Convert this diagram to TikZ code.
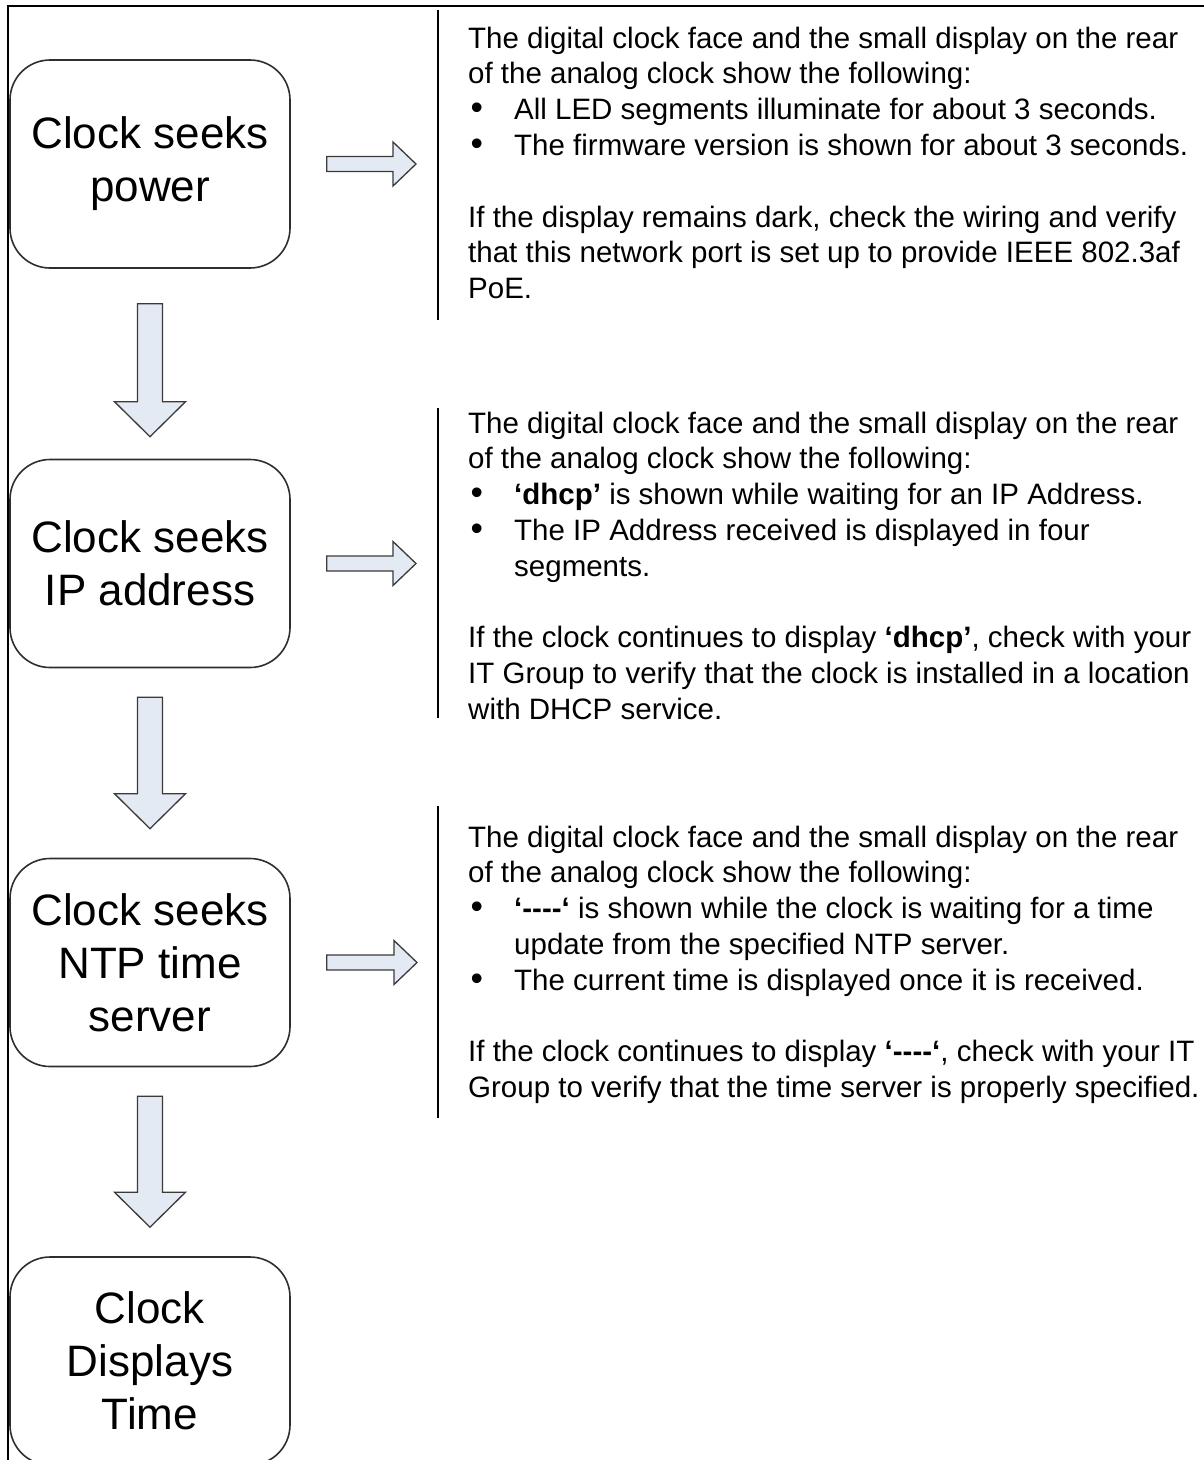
\documentclass[tikz,border=0pt]{standalone}
\usepackage{fontspec}
\setmainfont{Liberation Sans}
\usetikzlibrary{calc}
\definecolor{arrowfill}{HTML}{E4EAF4}
\definecolor{arrowline}{HTML}{3A3A3A}
\definecolor{boxline}{HTML}{2E2E2E}
\newcommand\bul{\makebox[46pt][l]{\hspace{2.5pt}\scalebox{1.2}{•}}}
\newcommand\ind{\hspace*{46pt}}
\newcommand\dashes{\mbox{-}\mbox{-}\mbox{-}\mbox{-}}
\newcommand\DownBlock[4]{%
  \draw[blockarrow] let \p1=($(#1.south)+(0,#3)$), \p2=($(#2.north)+(0,-#4)$) in
    (\x1-12.5pt,\y1) -- (\x1+12.5pt,\y1) -- (\x1+12.5pt,\y2+35pt) -- (\x1+35.5pt,\y2+35pt)
    -- (\x1,\y2) -- (\x1-35.5pt,\y2+35pt) -- (\x1-12.5pt,\y2+35pt) -- cycle;}
\newcommand\RightBlock[2]{%
  \draw[blockarrow] let \p1=($(#1.east)+(36,0)$), \p2=(#2) in
    (\x1,\y1+7.5pt) -- (\x2-23pt,\y1+7.5pt) -- (\x2-23pt,\y1+22pt) -- (\x2,\y1)
    -- (\x2-23pt,\y1-22pt) -- (\x2-23pt,\y1-7.5pt) -- (\x1,\y1-7.5pt) -- cycle;}
\begin{document}
\begin{tikzpicture}[x=1pt,y=-1pt,
  stepbox/.style={draw=boxline,line width=1.6pt,rounded corners=40pt,fill=white,
    minimum width=280pt,minimum height=208pt,inner sep=0pt,align=center,
    font=\fontsize{44}{53}\selectfont},
  infotext/.style={anchor=north west,inner sep=0pt,align=left,
    font=\fontsize{29.5}{35.8}\selectfont},
  blockarrow/.style={draw=arrowline,line width=1.3pt,fill=arrowfill,line join=miter},
  sepline/.style={draw=black,line width=2pt},
  frameline/.style={draw=black,line width=1.5pt}]
\useasboundingbox (0,0) rectangle (1204,1460);
\fill[white] (0,0) rectangle (1204,1460);
% frame
\coordinate (fbl) at (8,1462);
\coordinate (ftl) at (8,6);
\coordinate (ftr) at (1206,6);
\draw[frameline] (fbl) -- (ftl) -- (ftr);
% boxes
\node[stepbox] (b1) at (150,164) {Clock seeks\\power};
\node[stepbox] (b2) at (150,563.5) {Clock seeks\\IP address};
\node[stepbox] (b3) at (150,962.5) {Clock seeks\\NTP time\\server};
\node[stepbox] (b4) at (150,1361) {Clock\\Displays\\Time};
% down arrows
\DownBlock{b1}{b2}{35}{22}
\DownBlock{b2}{b3}{29}{29}
\DownBlock{b3}{b4}{29}{29}
% right arrow tips
\coordinate (r1) at (416,164);
\coordinate (r2) at (416,563.5);
\coordinate (r3) at (417,962.5);
\RightBlock{b1}{r1}
\RightBlock{b2}{r2}
\RightBlock{b3}{r3}
% separator lines
\coordinate (s1a) at (437.5,10);  \coordinate (s1b) at (437.5,320);
\coordinate (s2a) at (437.5,408); \coordinate (s2b) at (437.5,718);
\coordinate (s3a) at (437.5,806); \coordinate (s3b) at (437.5,1118);
\draw[sepline] (s1a) -- (s1b);
\draw[sepline] (s2a) -- (s2b);
\draw[sepline] (s3a) -- (s3b);
% texts
\node[infotext] (t1) at (468,26.5) {The digital clock face and the small display on the rear\\
of the analog clock show the following:\\
\bul All LED segments illuminate for about 3 seconds.\\
\bul The firmware version is shown for about 3 seconds.\\
\mbox{}\\
If the display remains dark, check the wiring and verify\\
that this network port is set up to provide IEEE 802.3af\\
PoE.};
\node[infotext] (t2) at (468,411.5) {The digital clock face and the small display on the rear\\
of the analog clock show the following:\\
\bul \textbf{‘dhcp’} is shown while waiting for an IP Address.\\
\bul The IP Address received is displayed in four\\
\ind segments.\\
\mbox{}\\
If the clock continues to display \textbf{‘dhcp’}, check with your\\
IT Group to verify that the clock is installed in a location\\
with DHCP service.};
\node[infotext] (t3) at (468,825.5) {The digital clock face and the small display on the rear\\
of the analog clock show the following:\\
\bul \textbf{‘\dashes‘} is shown while the clock is waiting for a time\\
\ind update from the specified NTP server.\\
\bul The current time is displayed once it is received.\\
\mbox{}\\
If the clock continues to display \textbf{‘\dashes‘}, check with your IT\\
Group to verify that the time server is properly specified.};
\end{tikzpicture}
\end{document}
